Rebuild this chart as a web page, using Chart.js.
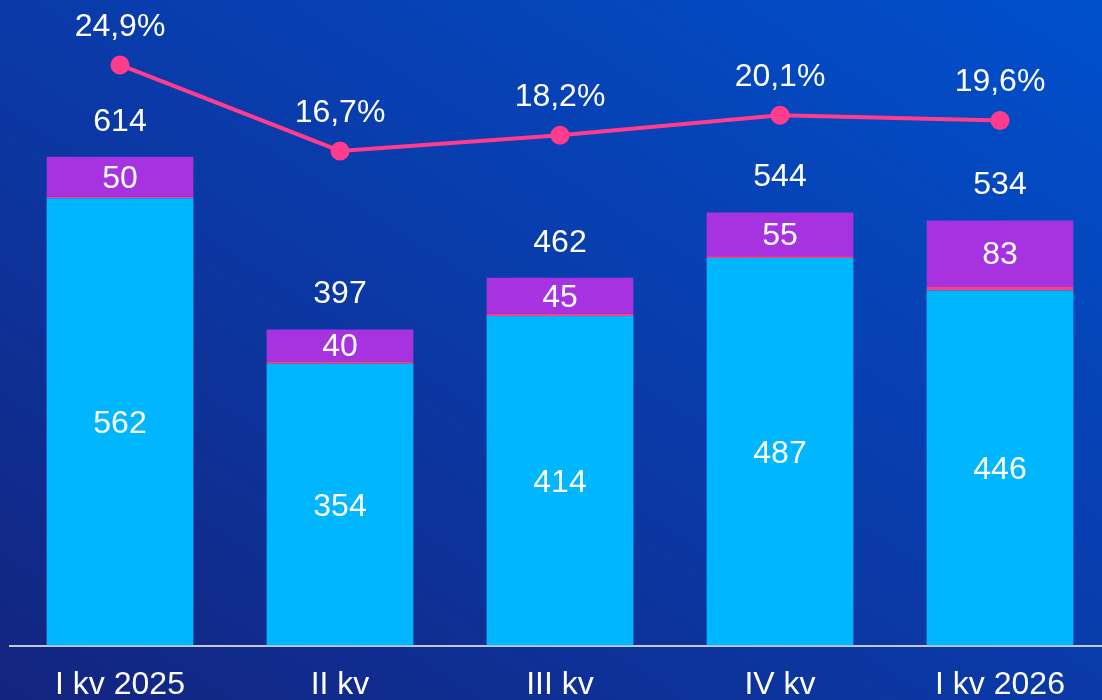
<!DOCTYPE html>
<html>
<head>
<meta charset="utf-8">
<script src="https://cdn.jsdelivr.net/npm/chart.js@4.4.1/dist/chart.umd.min.js"></script>
<style>
  html, body {
    margin: 0;
    padding: 0;
    width: 1102px;
    height: 700px;
    overflow: hidden;
    background: linear-gradient(to top right, #13247f 0%, #0a3aa8 50%, #0050cc 100%);
  }
  #myChart {
    display: block;
  }
</style>
</head>
<body>
<canvas id="myChart" width="1110" height="724"></canvas>
<script>
  // chart data
  const categories = ["I kv 2025", "II kv", "III kv", "IV kv", "I kv 2026"];
  const baseValues = [562, 354, 414, 487, 446];
  const thinValues = [2, 3, 3, 2, 5];
  const topValues = [50, 40, 45, 55, 83];
  const totals = [614, 397, 462, 544, 534];
  const shareValues = [24.9, 16.7, 18.2, 20.1, 19.6];

  const labelFont = "32px 'Liberation Sans', Arial, sans-serif";

  function fmtPct(v) {
    return v.toFixed(1).replace(".", ",") + "%";
  }

  // value labels: inside segments, totals above bars, percentages above points
  let labelPlugin = {
    id: "valueLabels",
    afterDatasetsDraw: function (chart) {
      let ctx = chart.ctx;
      ctx.save();
      ctx.font = labelFont;
      ctx.fillStyle = "#ffffff";
      ctx.textAlign = "center";
      ctx.textBaseline = "middle";

      let baseMeta = chart.getDatasetMeta(0);
      let topMeta = chart.getDatasetMeta(2);
      let lineMeta = chart.getDatasetMeta(3);

      baseMeta.data.forEach(function (bar, i) {
        ctx.fillText(baseValues[i], bar.x, (bar.y + bar.base) / 2 + 2);
      });
      topMeta.data.forEach(function (bar, i) {
        ctx.fillText(topValues[i], bar.x, (bar.y + bar.base) / 2 + 2);
        ctx.fillText(totals[i], bar.x, bar.y - 35);
      });
      lineMeta.data.forEach(function (pt, i) {
        ctx.fillText(fmtPct(shareValues[i]), pt.x, pt.y - 38);
      });
      ctx.restore();
    },
  };

  let ctx = document.getElementById("myChart").getContext("2d");
  let myChart = new Chart(ctx, {
    type: "bar",
    data: {
      labels: categories,
      datasets: [
        { data: baseValues, backgroundColor: "#00b7ff", stack: "s", order: 2 },
        { data: thinValues, backgroundColor: "#ff3d8c", stack: "s", order: 2 },
        { data: topValues, backgroundColor: "#a632e0", stack: "s", order: 2 },
        {
          type: "line",
          data: shareValues,
          yAxisID: "y2",
          borderColor: "#ff3d8c",
          backgroundColor: "#ff3d8c",
          borderWidth: 4,
          pointRadius: 7.5,
          pointHoverRadius: 7.5,
          tension: 0,
          clip: false,
          order: 1,
        },
      ],
    },
    options: {
      responsive: false,
      animation: false,
      devicePixelRatio: 1,
      layout: {
        autoPadding: false,
        padding: { left: 10, right: 0, top: 0, bottom: 0 },
      },
      plugins: {
        legend: { display: false },
        tooltip: { enabled: false },
      },
      datasets: {
        bar: { barPercentage: 0.667, categoryPercentage: 1 },
      },
      scales: {
        x: {
          stacked: true,
          grid: { display: false, drawTicks: false },
          border: { display: true, color: "#c4c8dc", width: 2 },
          ticks: {
            color: "#ffffff",
            font: { family: "'Liberation Sans', Arial, sans-serif", size: 32 },
            padding: 20,
            maxRotation: 0,
            autoSkip: false,
          },
        },
        y: { stacked: true, display: false, min: 0, max: 811 },
        y2: { display: false, min: -30.5, max: 31.1 },
      },
    },
    plugins: [labelPlugin],
  });
</script>
</body>
</html>
